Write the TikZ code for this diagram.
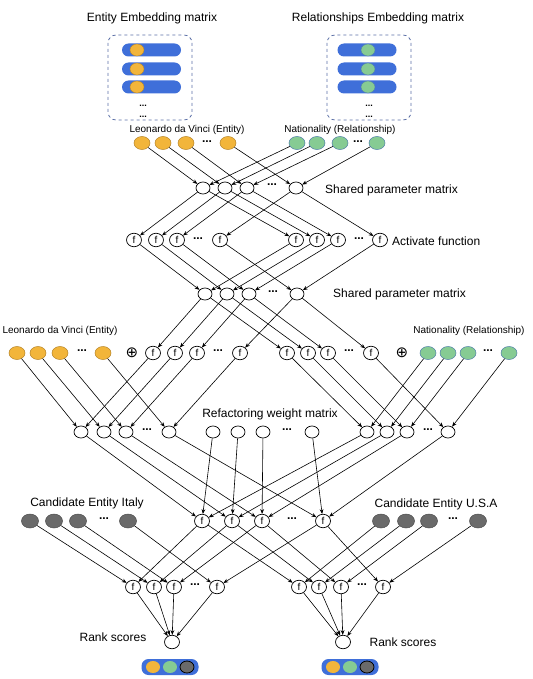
\documentclass[tikz,border=0pt]{standalone}
\usepackage{fontspec}
\setmainfont{Liberation Sans}
\newfontfamily\dejavu{DejaVu Sans}
\usetikzlibrary{shapes.geometric,arrows.meta}
\definecolor{pillblue}{HTML}{3F6FD9}
\definecolor{eorange}{HTML}{F2B53A}
\definecolor{eorangeline}{HTML}{B8862A}
\definecolor{egreen}{HTML}{86CB93}
\definecolor{egreenline}{HTML}{4F7FA8}
\definecolor{egray}{HTML}{6A6A6A}
\definecolor{boxblue}{HTML}{5B6FA6}
\begin{document}
\begin{tikzpicture}[x=1pt,y=-1pt,
  pn/.style={ellipse,draw,line width=0.7pt,minimum width=14pt,minimum height=12pt,inner sep=0pt,fill=white},
  fn/.style={ellipse,draw,line width=0.7pt,minimum width=15pt,minimum height=13.5pt,inner sep=0pt,fill=white,font=\fontsize{10}{10}\selectfont},
  on/.style={ellipse,draw=eorangeline,line width=0.5pt,fill=eorange,minimum width=16pt,minimum height=13pt,inner sep=0pt},
  gn/.style={ellipse,draw=egreenline,line width=0.5pt,fill=egreen,minimum width=16pt,minimum height=13pt,inner sep=0pt},
  dn/.style={ellipse,draw=black!70,line width=0.5pt,fill=egray,minimum width=17pt,minimum height=14pt,inner sep=0pt},
  dt/.style={font=\bfseries\fontsize{12}{12}\selectfont,inner sep=0pt},
  bdt/.style={font=\bfseries\fontsize{9}{9}\selectfont,inner sep=0pt},
  lbl/.style={font=\fontsize{12}{14}\selectfont,inner sep=0pt},
  slbl/.style={font=\fontsize{10}{12}\selectfont,inner sep=0pt},
  pill/.style={rectangle,rounded corners=6.5pt,fill=pillblue,minimum width=59pt,minimum height=13pt,inner sep=0pt},
  pin/.style={ellipse,minimum width=14pt,minimum height=12pt,inner sep=0pt,line width=0.4pt},
  dbox/.style={draw=boxblue,dashed,line width=0.8pt,rounded corners=8pt},
  opl/.style={inner sep=0pt,font=\dejavu\fontsize{15}{15}\selectfont},
  ar/.style={-{Stealth[length=4.8pt,width=3.8pt]},line width=0.6pt}
]
\useasboundingbox (0,0) rectangle (532,679);

% titles
\node[lbl] (title1) at (152,18) {Entity Embedding matrix};
\node[lbl] (title2) at (378,18) {Relationships Embedding matrix};

% embedding boxes
\draw[dbox] (108,35) rectangle (192,120);
\draw[dbox] (327,35) rectangle (411,120);
\foreach \k/\y in {1/50,2/69,3/87}{
  \node[pill] (pl\k) at (151.5,\y) {};
  \node[pin,fill=eorange,draw=eorangeline] (plc\k) at (137,\y) {};
  \node[pill] (pr\k) at (367,\y) {};
  \node[pin,fill=egreen,draw=egreenline] (prc\k) at (368,\y) {};
}
\node[bdt,anchor=base] (bdl1) at (143,107) {...};
\node[bdt,anchor=base] (bdl2) at (143,118) {...};
\node[bdt,anchor=base] (bdr1) at (369,107) {...};
\node[bdt,anchor=base] (bdr2) at (369,118) {...};

% top inputs
\node[slbl] (lab1) at (187,130) {Leonardo da Vinci (Entity)};
\node[slbl] (lab2) at (340,130) {Nationality (Relationship)};
\foreach \i/\x in {1/142,2/163,3/186,4/228} \node[on] (ta\i) at (\x,143) {};
\foreach \i/\x in {1/297,2/317,3/340,4/377} \node[gn] (tb\i) at (\x,143) {};
\node[dt] (dta) at (207,142) {...};
\node[dt] (dtb) at (358,142) {...};

% shared parameter matrix 1
\foreach \i/\x in {1/203,2/225,3/247,4/296} \node[pn] (s\i) at (\x,188) {};
\node[dt] (dts) at (272,185) {...};
\node[lbl,anchor=west] (slab1) at (325,190) {Shared parameter matrix};

% activate row
\foreach \i/\x in {1/134,2/156,3/177,4/220} \node[fn] (fa\i) at (\x,240) {f};
\foreach \i/\x in {1/296,2/317,3/338,4/380} \node[fn] (fb\i) at (\x,240) {f};
\node[dt] (dfa) at (198,239) {...};
\node[dt] (dfb) at (359,239) {...};
\node[lbl,anchor=west] (alab) at (392,241) {Activate function};

% shared parameter matrix 2
\foreach \i/\x in {1/205,2/227,3/249,4/297} \node[pn] (t\i) at (\x,294) {};
\node[dt] (dtt) at (273,292) {...};
\node[lbl,anchor=west] (slab2) at (333,294) {Shared parameter matrix};

% row 3
\node[slbl] (lab3) at (60,331) {Leonardo da Vinci (Entity)};
\node[slbl] (lab4) at (469,331) {Nationality (Relationship)};
\foreach \i/\x in {1/17,2/38,3/60,4/103} \node[on] (ra\i) at (\x,353) {};
\foreach \i/\x in {1/153,2/175,3/197,4/240} \node[fn] (rf\i) at (\x,353) {f};
\foreach \i/\x in {1/287,2/308,3/328,4/371} \node[fn] (rg\i) at (\x,353) {f};
\foreach \i/\x in {1/428,2/448,3/468,4/509} \node[gn] (rb\i) at (\x,353) {};
\node[dt] (dra) at (82,351) {...};
\node[dt] (drf) at (218,351) {...};
\node[dt] (drg) at (349,351) {...};
\node[dt] (drb) at (488,351) {...};
\node[opl] (op1) at (132,353) {⊕};
\node[opl] (op2) at (402,353) {⊕};

% row 4
\node[lbl] (rlab) at (270,414) {Refactoring weight matrix};
\foreach \i/\x in {1/81,2/104,3/126,4/169} \node[pn] (ua\i) at (\x,432) {};
\foreach \i/\x in {1/213,2/238,3/263,4/312} \node[pn] (uw\i) at (\x,432) {};
\foreach \i/\x in {1/367,2/387,3/407,4/448} \node[pn] (ub\i) at (\x,432) {};
\node[dt] (dua) at (147,430) {...};
\node[dt] (duw) at (287,430) {...};
\node[dt] (dub) at (428,430) {...};

% row 5
\node[lbl] (clab1) at (87,503) {Candidate Entity Italy};
\node[lbl] (clab2) at (436,504) {Candidate Entity U.S.A};
\foreach \i/\x in {1/30,2/54,3/78,4/128} \node[dn] (ca\i) at (\x,521) {};
\foreach \i/\x in {1/202,2/232,3/262,4/323} \node[fn] (m\i) at (\x,521) {f};
\foreach \i/\x in {1/381,2/406,3/429,4/478} \node[dn] (cb\i) at (\x,521) {};
\node[dt] (dca) at (104,519) {...};
\node[dt] (dm) at (292,519) {...};
\node[dt] (dcb) at (453,519) {...};

% row 6
\foreach \i/\x in {1/133,2/154,3/174,4/217} \node[fn] (la\i) at (\x,587) {f};
\foreach \i/\x in {1/299,2/319,3/341,4/383} \node[fn] (lb\i) at (\x,587) {f};
\node[dt] (dla) at (195,585) {...};
\node[dt] (dlb) at (362,585) {...};

% rank
\node[fn] (rka) at (172,642) {};
\node[fn] (rkb) at (343,642) {};
\node[lbl] (rlab1) at (113,637) {Rank scores};
\node[lbl] (rlab2) at (403,642) {Rank scores};

% result pills
\node[pill,minimum width=57pt,minimum height=16pt,rounded corners=7pt] (rp1) at (170,667) {};
\node[pin,fill=eorange] (rp1a) at (153,667) {};
\node[pin,fill=egreen] (rp1b) at (170,667) {};
\node[pin,fill=egray,draw=black,line width=0.8pt] (rp1c) at (187,667) {};
\node[pill,minimum width=57pt,minimum height=16pt,rounded corners=7pt] (rp2) at (350,667) {};
\node[pin,fill=eorange] (rp2a) at (333,667) {};
\node[pin,fill=egreen] (rp2b) at (350,667) {};
\node[pin,fill=egray,draw=black,line width=0.8pt] (rp2c) at (367,667) {};

% connections
\foreach \i in {1,2,3,4}{
  \draw[ar] (ta\i) -- (s\i);
  \draw[ar] (tb\i) -- (s\i);
  \draw[ar] (s\i) -- (fa\i);
  \draw[ar] (s\i) -- (fb\i);
  \draw[ar] (fa\i) -- (t\i);
  \draw[ar] (fb\i) -- (t\i);
  \draw[ar] (t\i) -- (rf\i);
  \draw[ar] (t\i) -- (rg\i);
  \draw[ar] (ra\i) -- (ua\i);
  \draw[ar] (rf\i) -- (ua\i);
  \draw[ar] (rg\i) -- (ub\i);
  \draw[ar] (rb\i) -- (ub\i);
  \draw[ar] (ua\i) -- (m\i);
  \draw[ar] (uw\i) -- (m\i);
  \draw[ar] (ub\i) -- (m\i);
  \draw[ar] (ca\i) -- (la\i);
  \draw[ar] (m\i) -- (la\i);
  \draw[ar] (m\i) -- (lb\i);
  \draw[ar] (cb\i) -- (lb\i);
  \draw[ar] (la\i) -- (rka);
  \draw[ar] (lb\i) -- (rkb);
}
\end{tikzpicture}
\end{document}
